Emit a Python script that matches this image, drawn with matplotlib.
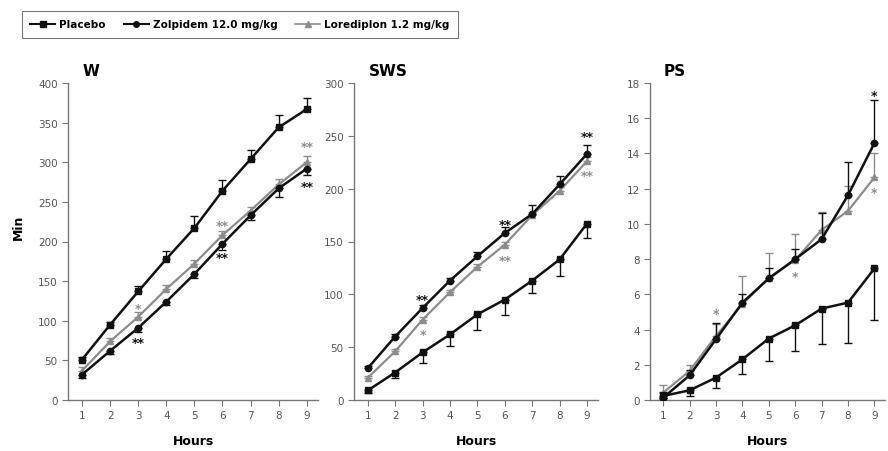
import matplotlib
matplotlib.use('Agg')
import matplotlib.pyplot as plt
import numpy as np
from matplotlib.lines import Line2D

hours = [1, 2, 3, 4, 5, 6, 7, 8, 9]

# W
w_placebo = [51, 95, 137, 178, 217, 264, 304, 344, 367]
w_placebo_err = [3, 4, 7, 10, 15, 13, 12, 16, 14]
w_zolp = [32, 62, 91, 124, 159, 197, 233, 267, 292]
w_zolp_err = [4, 4, 5, 4, 5, 8, 6, 11, 8]
w_lore = [37, 74, 105, 140, 172, 208, 239, 272, 300]
w_lore_err = [5, 4, 6, 5, 5, 5, 5, 7, 8]

# SWS
s_placebo = [9, 26, 45, 62, 81, 95, 113, 133, 167]
s_placebo_err = [2, 5, 10, 11, 15, 15, 12, 16, 14]
s_zolp = [30, 60, 87, 113, 136, 158, 176, 204, 233]
s_zolp_err = [2, 2, 3, 2, 4, 6, 9, 8, 8]
s_lore = [21, 46, 76, 102, 126, 147, 175, 198, 226]
s_lore_err = [2, 2, 3, 2, 3, 3, 3, 4, 4]

# PS
p_placebo = [0.23, 0.55, 1.27, 2.31, 3.49, 4.24, 5.19, 5.53, 7.47]
p_placebo_err = [0.1, 0.3, 0.6, 0.85, 1.3, 1.45, 2.0, 2.3, 2.9]
p_zolp = [0.13, 1.4, 3.45, 5.53, 6.9, 8.0, 9.13, 11.63, 14.59]
p_zolp_err = [0.3, 0.3, 0.9, 0.5, 0.6, 0.6, 1.5, 1.9, 2.45]
p_lore = [0.42, 1.65, 3.64, 5.44, 6.95, 7.94, 9.66, 10.74, 12.64]
p_lore_err = [0.45, 0.35, 0.7, 1.6, 1.4, 1.5, 1.0, 1.4, 1.4]

BLACK = '#111111'
GRAY = '#8c8c8c'
AXC = '#777777'

panels = [
    ('W', 400, 50, w_placebo, w_placebo_err, 'up', w_zolp, w_zolp_err, 'down', w_lore, w_lore_err,
     [(3, 115, '*', GRAY), (3, 72, '**', BLACK), (6, 220, '**', GRAY), (6, 180, '**', BLACK),
      (9, 320, '**', GRAY), (9, 270, '**', BLACK)]),
    ('SWS', 300, 50, s_placebo, s_placebo_err, 'down', s_zolp, s_zolp_err, 'up', s_lore, s_lore_err,
     [(3, 95, '**', BLACK), (3, 62, '*', GRAY), (6, 166, '**', BLACK), (6, 132, '**', GRAY),
      (9, 249, '**', BLACK), (9, 212, '**', GRAY)]),
    ('PS', 18, 2, p_placebo, p_placebo_err, 'down', p_zolp, p_zolp_err, 'up', p_lore, p_lore_err,
     [(3, 4.9, '*', GRAY), (6, 7.0, '*', GRAY), (9, 17.3, '*', BLACK), (9, 11.8, '*', GRAY)]),
]

W, H = 888, 452
fig = plt.figure(figsize=(W / 100, H / 100), dpi=100)

boxes = [(68, 318), (354, 598), (650, 885)]
top, bot = 84, 401


def err(vals, d):
    z = np.zeros(len(vals))
    return [vals, z] if d == 'down' else [z, vals]


for (name, ymax, ystep, pl, ple, pld, zo, zoe, zod, lo, loe, ann), (x0, x1) in zip(panels, boxes):
    ax = fig.add_axes([x0 / W, 1 - bot / H, (x1 - x0) / W, (bot - top) / H])
    ax.errorbar(hours, lo, yerr=err(loe, 'up'), color=GRAY, marker='^', ms=4.5, lw=1.6,
                capsize=3, elinewidth=1, capthick=1, zorder=2)
    ax.errorbar(hours, zo, yerr=err(zoe, zod), color=BLACK, marker='o', ms=4.5, lw=1.8,
                capsize=3, elinewidth=1, capthick=1, zorder=3)
    ax.errorbar(hours, pl, yerr=err(ple, pld), color=BLACK, marker='s', ms=4.5, lw=1.8,
                capsize=3, elinewidth=1, capthick=1, zorder=3)
    for hx, hy, txt, c in ann:
        ax.text(hx, hy, txt, color=c, ha='center', va='center', fontsize=9, fontweight='bold')
    ax.set_xlim(0.5, 9.4)
    ax.set_ylim(0, ymax)
    ax.set_xticks(hours)
    ax.set_yticks(np.arange(0, ymax + ystep / 2, ystep))
    for s in ['top', 'right']:
        ax.spines[s].set_visible(False)
    for s in ['left', 'bottom']:
        ax.spines[s].set_color(AXC)
        ax.spines[s].set_linewidth(1)
    ax.tick_params(direction='out', colors=AXC, labelcolor='#555555', labelsize=7.5, length=4)
    ax.set_xlabel('Hours', fontsize=9, fontweight='bold', labelpad=10)
    ax.text(0.06, 1.015, name, transform=ax.transAxes, fontsize=11, fontweight='bold', va='bottom')

fig.text(18 / W, 1 - 227 / H, 'Min', fontsize=9, fontweight='bold', rotation=90, va='center', ha='center')

handles = [
    Line2D([], [], color=BLACK, marker='s', ms=4, lw=1.5),
    Line2D([], [], color=BLACK, marker='o', ms=4, lw=1.5),
    Line2D([], [], color=GRAY, marker='^', ms=4, lw=1.2),
]
leg = fig.legend(handles, ['Placebo', 'Zolpidem 12.0 mg/kg', 'Lorediplon 1.2 mg/kg'],
                 loc='upper left', bbox_to_anchor=(22 / W, 1 - 12 / H), ncol=3,
                 frameon=True, fancybox=False, edgecolor='#555555', handlelength=2.4,
                 columnspacing=1.7, handletextpad=0.4, borderpad=0.8, borderaxespad=0,
                 prop={'weight': 'bold', 'size': 7.5})
leg.get_frame().set_linewidth(0.8)

fig.savefig('out.png', dpi=100)
